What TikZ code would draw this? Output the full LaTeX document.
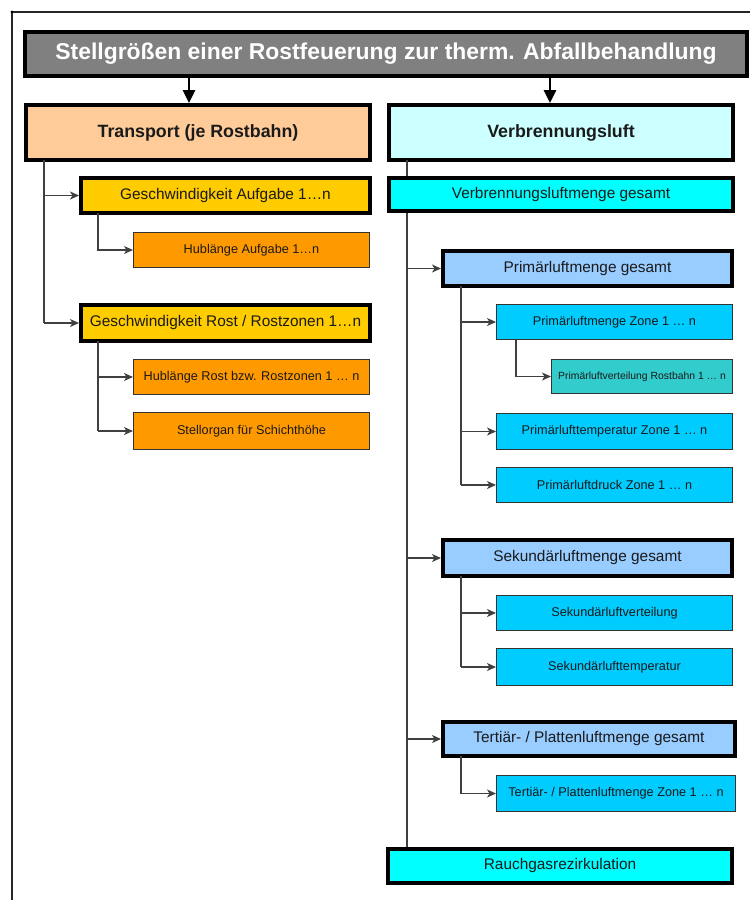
\documentclass[tikz,border=0pt]{standalone}
\usepackage{fontspec}
\setmainfont{Liberation Sans}
\usetikzlibrary{arrows.meta,calc}
\definecolor{titlegray}{HTML}{808080}
\definecolor{peach}{HTML}{FFCC99}
\definecolor{lightcyan}{HTML}{CCFFFF}
\definecolor{gold}{HTML}{FFCC00}
\definecolor{orangebox}{HTML}{FF9900}
\definecolor{aqua}{HTML}{00FFFF}
\definecolor{skyblue}{HTML}{99CCFF}
\definecolor{zoneblue}{HTML}{00CCFF}
\definecolor{teal2}{HTML}{33CCCC}
\definecolor{connline}{HTML}{404040}
\definecolor{txtdark}{HTML}{1A1A1A}
\tikzset{
  thickbox/.style={draw=black, line width=4pt, inner sep=0pt, align=center, text=txtdark},
  thinbox/.style={draw=black!80, line width=1pt, inner sep=0pt, align=center, text=txtdark},
  bigtxt/.style={font=\fontsize{15.4}{18}\selectfont},
  smalltxt/.style={font=\fontsize{12.7}{15}\selectfont},
  conn/.style={draw=connline, line width=1.2pt},
  connarrow/.style={conn, -{Stealth[length=9pt,width=8pt,inset=2.5pt]}},
  toparrow/.style={draw=black, line width=2.8pt, -{Triangle[length=13pt,width=12pt]}},
}
\begin{document}
\begin{tikzpicture}[x=1pt,y=-1pt]
\useasboundingbox (0,0) rectangle (750,900);
% frame
\coordinate (fa) at (12,900);
\coordinate (fb) at (12,12);
\coordinate (fc) at (750,12);
\draw[line width=1.6pt, black!85] (fa) -- (fb) -- (fc);
\fill[black] (fb) circle (1.6pt);

% title
\node[thickbox, fill=titlegray, text=white, minimum width=722pt, minimum height=44pt,
      font=\fontsize{22.9}{26}\selectfont\bfseries] (title) at (386,54)
      {Stellgrößen einer Rostfeuerung zur therm. Abfallbehandlung};

% level 1
\node[thickbox, fill=peach, minimum width=344pt, minimum height=55pt,
      font=\fontsize{17.8}{20}\selectfont\bfseries] (transport) at (198,132.5) {Transport (je Rostbahn)};
\node[thickbox, fill=lightcyan, minimum width=344pt, minimum height=55pt,
      font=\fontsize{17.8}{20}\selectfont\bfseries] (vbl) at (561,132.5) {Verbrennungsluft};

\draw[toparrow] ([xshift=-9pt]transport.north |- title.south) -- ([xshift=-9pt]transport.north);
\draw[toparrow] ([xshift=-11pt]vbl.north |- title.south) -- ([xshift=-11pt]vbl.north);

% left column
\node[thickbox, bigtxt, fill=gold, minimum width=289pt, minimum height=35pt] (gAuf) at (225.5,195.5) {Geschwindigkeit Aufgabe 1…n};
\node[thinbox, smalltxt, fill=orangebox, minimum width=236pt, minimum height=35pt] (hAuf) at (251.5,250) {Hublänge Aufgabe 1…n};
\node[thickbox, bigtxt, fill=gold, minimum width=289pt, minimum height=36pt] (gRost) at (225.5,323) {Geschwindigkeit Rost / Rostzonen 1…n};
\node[thinbox, smalltxt, fill=orangebox, minimum width=236pt, minimum height=35pt] (hRost) at (251.5,377) {Hublänge Rost bzw. Rostzonen 1 … n};
\node[thinbox, smalltxt, fill=orangebox, minimum width=236pt, minimum height=37pt] (stell) at (251.5,431) {Stellorgan für Schichthöhe};

\coordinate (tl) at (44,160);
\draw[conn] (tl) -- (tl |- gRost.west);
\draw[connarrow] (tl |- gAuf.west) -- (gAuf.west);
\draw[connarrow] (tl |- gRost.west) -- (gRost.west);
\coordinate (bl1) at (98,213);
\draw[connarrow] (bl1) |- (hAuf.west);
\coordinate (bl2) at (98,341);
\draw[conn] (bl2) -- (bl2 |- stell.west);
\draw[connarrow] (bl2 |- hRost.west) -- (hRost.west);
\draw[connarrow] (bl2 |- stell.west) -- (stell.west);

% right column trunk (behind boxes)
\coordinate (tr) at (407,160);
\node[thickbox, bigtxt, fill=aqua, minimum width=344pt, minimum height=34pt] (rauch) at (560,866) {Rauchgasrezirkulation};
\draw[conn] (tr) -- (tr |- rauch.north);

\node[thickbox, bigtxt, fill=aqua, minimum width=344pt, minimum height=33pt] (vlm) at (561,194.5) {Verbrennungsluftmenge gesamt};

\node[thickbox, bigtxt, fill=skyblue, minimum width=289pt, minimum height=35pt] (plg) at (587.5,268.5) {Primärluftmenge gesamt};
\node[thinbox, smalltxt, fill=zoneblue, minimum width=236pt, minimum height=35pt] (plz) at (614.5,322) {Primärluftmenge Zone 1 … n};
\node[thinbox, fill=teal2, minimum width=181pt, minimum height=34pt, font=\fontsize{10.4}{12}\selectfont] (plv) at (642,376.5) {Primärluftverteilung Rostbahn 1 … n};
\node[thinbox, smalltxt, fill=zoneblue, minimum width=236pt, minimum height=36pt] (plt) at (614.5,431.5) {Primärlufttemperatur Zone 1 … n};
\node[thinbox, smalltxt, fill=zoneblue, minimum width=236pt, minimum height=35pt] (pld) at (614.5,485) {Primärluftdruck Zone 1 … n};

\node[thickbox, bigtxt, fill=skyblue, minimum width=289pt, minimum height=36pt] (slg) at (587.5,558) {Sekundärluftmenge gesamt};
\node[thinbox, smalltxt, fill=zoneblue, minimum width=236pt, minimum height=35pt] (slv) at (614.5,613) {Sekundärluftverteilung};
\node[thinbox, smalltxt, fill=zoneblue, minimum width=236pt, minimum height=37pt] (slt) at (614.5,667) {Sekundärlufttemperatur};

\node[thickbox, bigtxt, fill=skyblue, minimum width=292pt, minimum height=34pt] (tlg) at (589,739) {Tertiär- / Plattenluftmenge gesamt};
\node[thinbox, smalltxt, fill=zoneblue, minimum width=239pt, minimum height=36pt] (tlz) at (616,793.5) {Tertiär- / Plattenluftmenge Zone 1 … n};

\draw[connarrow] (tr |- plg.west) -- (plg.west);
\draw[connarrow] (tr |- slg.west) -- (slg.west);
\draw[connarrow] (tr |- tlg.west) -- (tlg.west);

\coordinate (br1) at (461,286);
\draw[conn] (br1) -- (br1 |- pld.west);
\draw[connarrow] (br1 |- plz.west) -- (plz.west);
\draw[connarrow] (br1 |- plt.west) -- (plt.west);
\draw[connarrow] (br1 |- pld.west) -- (pld.west);

\coordinate (br2) at (516,339.5);
\draw[connarrow] (br2) |- (plv.west);

\coordinate (br3) at (461,576);
\draw[conn] (br3) -- (br3 |- slt.west);
\draw[connarrow] (br3 |- slv.west) -- (slv.west);
\draw[connarrow] (br3 |- slt.west) -- (slt.west);

\coordinate (br4) at (461,756);
\draw[connarrow] (br4) |- (tlz.west);
\end{tikzpicture}
\end{document}
